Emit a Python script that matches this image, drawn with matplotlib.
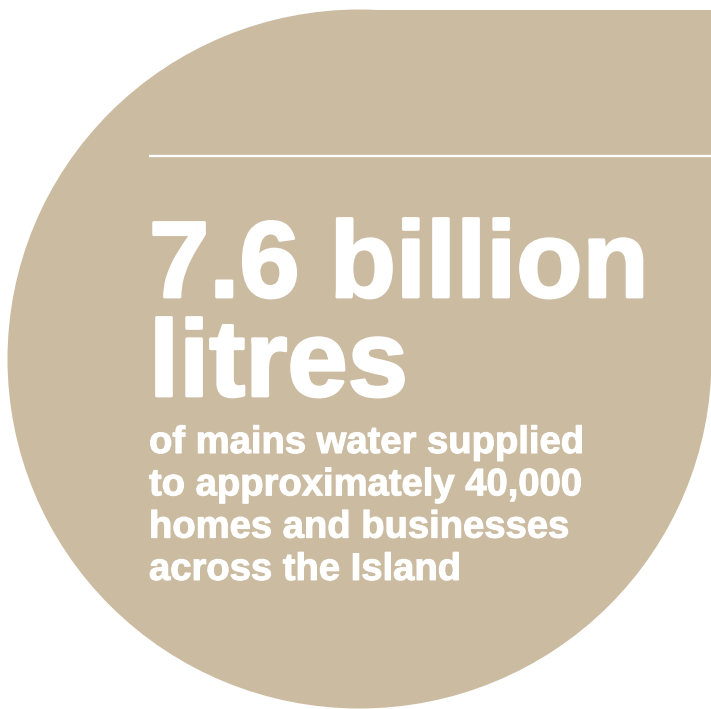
import matplotlib
matplotlib.use('Agg')
import matplotlib.pyplot as plt
from matplotlib.patches import Ellipse, Rectangle
import matplotlib.patheffects as pe

# text content
headline = ['7.6 billion', 'litres']
subtext = ['of mains water supplied',
           'to approximately 40,000',
           'homes and businesses',
           'across the Island']

tan = '#cbbba1'

fig = plt.figure(figsize=(7.11, 7.09), dpi=100)
ax = fig.add_axes([0, 0, 1, 1])
ax.set_xlim(0, 711)
ax.set_ylim(709, 0)
ax.axis('off')

# teardrop: round shape with a square top-right corner
cx, cy = 359.5, 359
ax.add_patch(Ellipse((cx, cy), 704, 699, color=tan, lw=0))
ax.add_patch(Rectangle((cx, cy - 349.5), 400, 349.5, color=tan, lw=0))

ax.plot([149, 711], [156, 156], color='white', lw=1.7, solid_capstyle='butt')

for i, line in enumerate(headline):
    ax.text(149, 297 + i * 99, line, color='white', fontsize=78,
            family='Liberation Sans', weight='bold', va='baseline', ha='left',
            path_effects=[pe.withStroke(linewidth=2, foreground='white')])

for i, line in enumerate(subtext):
    ax.text(149, 453 + i * 42.3, line, color='white', fontsize=27.5,
            family='Liberation Sans', weight='bold', va='baseline', ha='left',
            path_effects=[pe.withStroke(linewidth=0.8, foreground='white')])

fig.savefig('out.png', dpi=100, facecolor='white')
